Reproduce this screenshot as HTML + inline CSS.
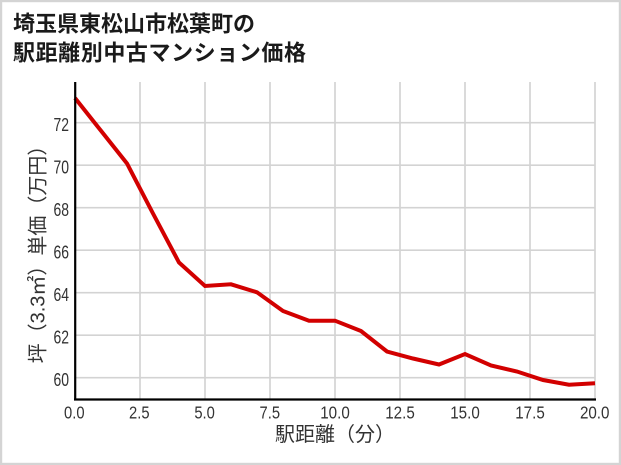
<!DOCTYPE html>
<html><head><meta charset="utf-8"><style>
html,body{margin:0;padding:0;background:#fff;}
svg{display:block;}
</style></head><body>
<svg width="621" height="465" viewBox="0 0 621 465" xmlns="http://www.w3.org/2000/svg">
<rect x="1" y="1" width="619" height="463" fill="#fff" stroke="#d4d4d4" stroke-width="2.4"/>
<g font-family="'Noto Sans CJK JP','IPAGothic',sans-serif" font-weight="bold" font-size="22" fill="#1a1a1a">
<text x="13" y="31.5">埼玉県東松山市松葉町の</text>
<text x="13" y="60.5" textLength="293" lengthAdjust="spacing">駅距離別中古マンション価格</text>
</g>
<g stroke="#d3d3d3" stroke-width="1.7">
<line x1="140" y1="82" x2="140" y2="399"/>
<line x1="205" y1="82" x2="205" y2="399"/>
<line x1="270" y1="82" x2="270" y2="399"/>
<line x1="335" y1="82" x2="335" y2="399"/>
<line x1="400" y1="82" x2="400" y2="399"/>
<line x1="465" y1="82" x2="465" y2="399"/>
<line x1="530" y1="82" x2="530" y2="399"/>
<line x1="595" y1="82" x2="595" y2="399"/>
<line x1="75" y1="377.7" x2="595" y2="377.7"/>
<line x1="75" y1="335.2" x2="595" y2="335.2"/>
<line x1="75" y1="292.7" x2="595" y2="292.7"/>
<line x1="75" y1="250.2" x2="595" y2="250.2"/>
<line x1="75" y1="207.7" x2="595" y2="207.7"/>
<line x1="75" y1="165.2" x2="595" y2="165.2"/>
<line x1="75" y1="122.7" x2="595" y2="122.7"/>
</g>
<polyline fill="none" stroke="#d20000" stroke-width="4" stroke-linejoin="miter" points="75,98 101,130.8 127,163.5 153,213.5 179,262.5 205,286 231,284.3 257,292.3 283,311 309,320.7 335,320.7 361,331 387,351.5 413,358.5 439,364.5 465,354 491,365.5 517,371.5 543,380 569,384.7 595,383.3"/>
<line x1="75.2" y1="82" x2="75.2" y2="400.5" stroke="#000" stroke-width="2.2"/>
<line x1="74" y1="399.5" x2="596" y2="399.5" stroke="#000" stroke-width="2.2"/>
<g font-family="'Liberation Sans Narrow','Liberation Sans',sans-serif" font-size="18.5" fill="#333" text-anchor="end">
<text x="69" y="386" textLength="15.5" lengthAdjust="spacingAndGlyphs">60</text>
<text x="69" y="343.5" textLength="15.5" lengthAdjust="spacingAndGlyphs">62</text>
<text x="69" y="301" textLength="15.5" lengthAdjust="spacingAndGlyphs">64</text>
<text x="69" y="258.5" textLength="15.5" lengthAdjust="spacingAndGlyphs">66</text>
<text x="69" y="216" textLength="15.5" lengthAdjust="spacingAndGlyphs">68</text>
<text x="69" y="173.5" textLength="15.5" lengthAdjust="spacingAndGlyphs">70</text>
<text x="69" y="131" textLength="15.5" lengthAdjust="spacingAndGlyphs">72</text>
</g>
<g font-family="'Liberation Sans Narrow','Liberation Sans',sans-serif" font-size="17.5" fill="#333" text-anchor="middle">
<text x="74.3" y="418.5" textLength="20.5" lengthAdjust="spacingAndGlyphs">0.0</text>
<text x="139.3" y="418.5" textLength="20.5" lengthAdjust="spacingAndGlyphs">2.5</text>
<text x="204.6" y="418.5" textLength="20.5" lengthAdjust="spacingAndGlyphs">5.0</text>
<text x="269.8" y="418.5" textLength="20.5" lengthAdjust="spacingAndGlyphs">7.5</text>
<text x="335" y="418.5" textLength="29.5" lengthAdjust="spacingAndGlyphs">10.0</text>
<text x="400" y="418.5" textLength="29.5" lengthAdjust="spacingAndGlyphs">12.5</text>
<text x="465" y="418.5" textLength="29.5" lengthAdjust="spacingAndGlyphs">15.0</text>
<text x="530" y="418.5" textLength="29.5" lengthAdjust="spacingAndGlyphs">17.5</text>
<text x="594.7" y="418.5" textLength="29.5" lengthAdjust="spacingAndGlyphs">20.0</text>
</g>
<g font-family="'Liberation Sans','Noto Sans CJK JP','IPAGothic',sans-serif" font-size="20" fill="#333">
<text x="335" y="441" text-anchor="middle">駅距離（分）</text>
<text transform="translate(44.5,249.5) rotate(-90)" text-anchor="middle">坪（3.3㎡）単価（万円）</text>
</g>
</svg>
</body></html>
